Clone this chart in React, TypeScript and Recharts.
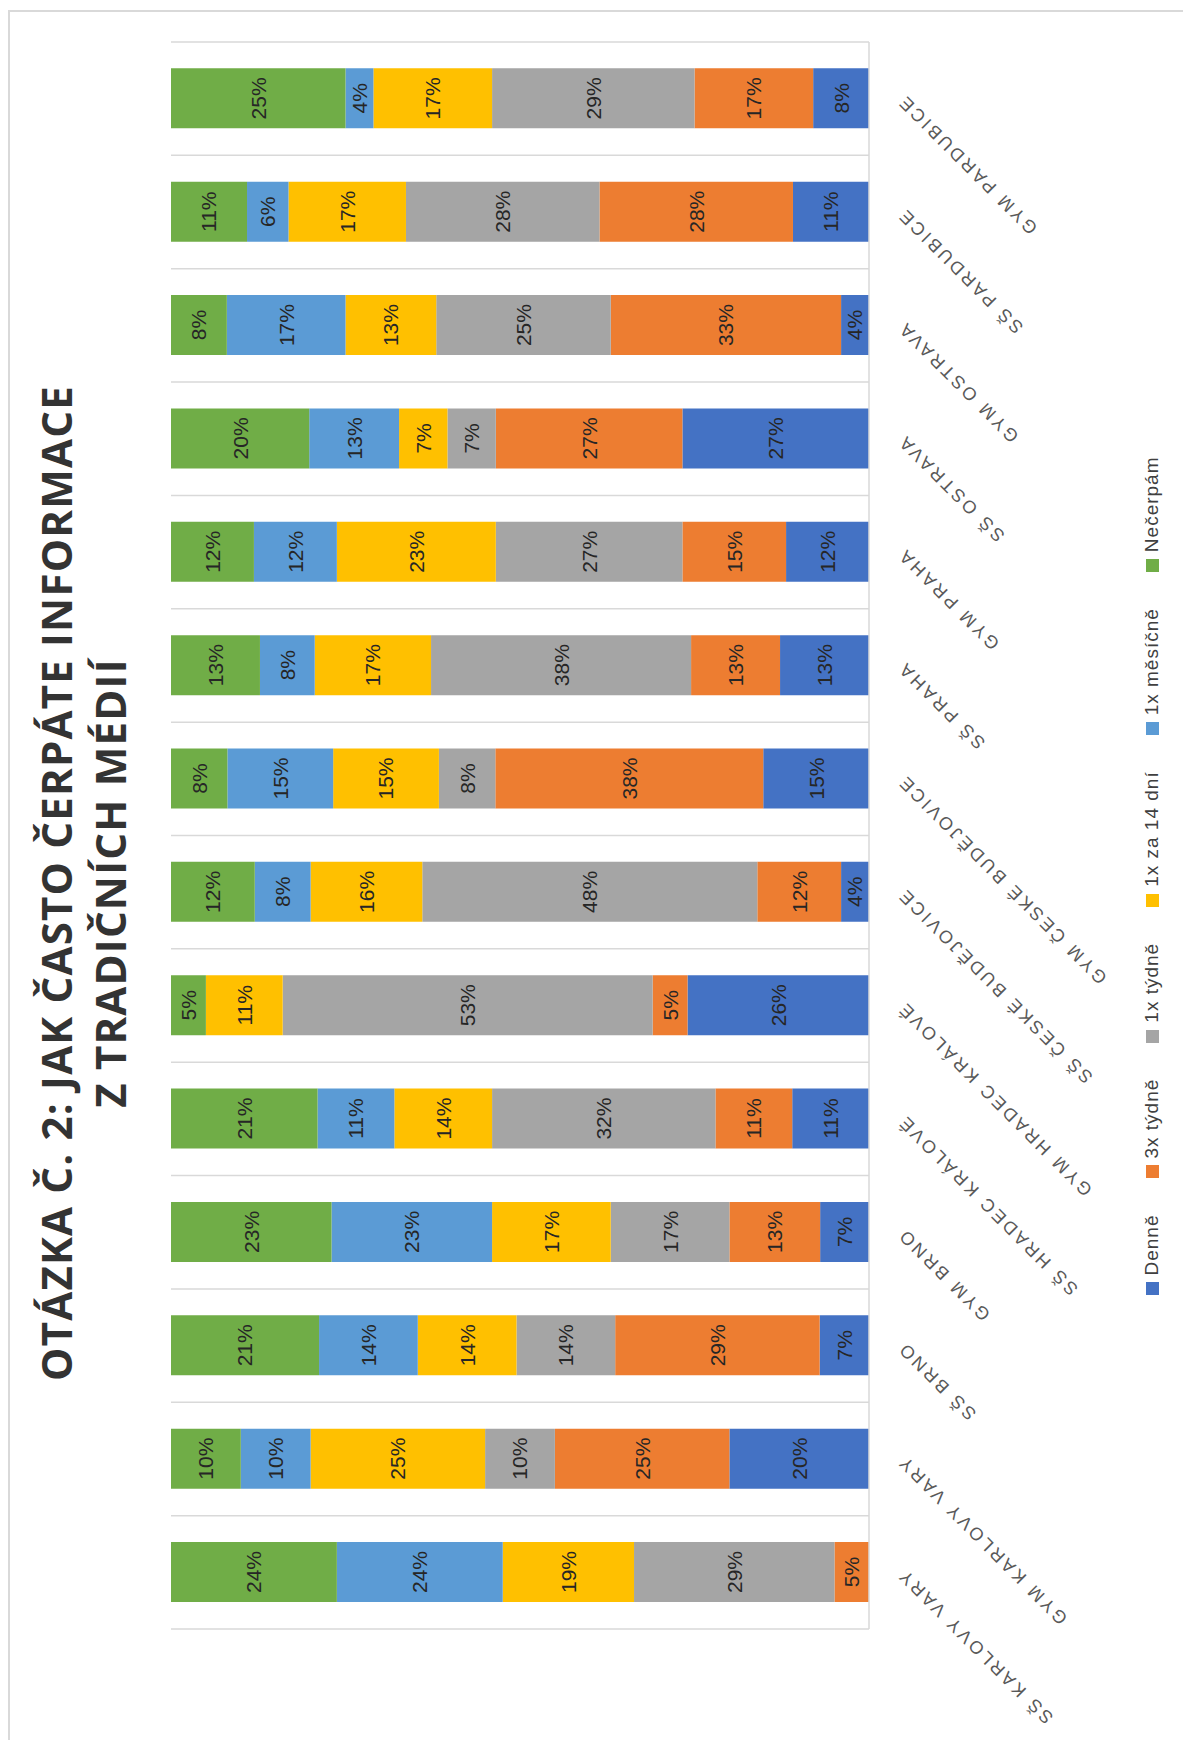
import React from "react";
import { BarChart, Bar, XAxis, YAxis, CartesianGrid, Legend, LabelList } from "recharts";

// categories left -> right in the unrotated chart
const categories = [
  "SŠ KARLOVY VARY",
  "GYM KARLOVY VARY",
  "SŠ BRNO",
  "GYM BRNO",
  "SŠ HRADEC KRÁLOVÉ",
  "GYM HRADEC KRÁLOVÉ",
  "SŠ ČESKÉ BUDĚJOVICE",
  "GYM ČESKÉ BUDĚJOVICE",
  "SŠ PRAHA",
  "GYM PRAHA",
  "SŠ OSTRAVA",
  "GYM OSTRAVA",
  "SŠ PARDUBICE",
  "GYM PARDUBICE",
];

// percentages per series (stack order bottom -> top)
const denne = [0, 20, 7, 7, 11, 26, 4, 15, 13, 12, 27, 4, 11, 8];
const tyd3 = [5, 25, 29, 13, 11, 5, 12, 38, 13, 15, 27, 33, 28, 17];
const tyd1 = [29, 10, 14, 17, 32, 53, 48, 8, 38, 27, 7, 25, 28, 29];
const den14 = [19, 25, 14, 17, 14, 11, 16, 15, 17, 23, 7, 13, 17, 17];
const mesicne = [24, 10, 14, 23, 11, 0, 8, 15, 8, 12, 13, 17, 6, 4];
const necerpam = [24, 10, 21, 23, 21, 5, 12, 8, 13, 12, 20, 8, 11, 25];

const seriesKeys = ["denne", "tyd3", "tyd1", "den14", "mesicne", "necerpam"];
const seriesNames = ["Denně", "3x týdně", "1x týdně", "1x za 14 dní", "1x měsíčně", "Nečerpám"];
const seriesColors = ["#4472C4", "#ED7D31", "#A5A5A5", "#FFC000", "#5B9BD5", "#70AD47"];
const seriesValues = [denne, tyd3, tyd1, den14, mesicne, necerpam];

const titleLines = ["OTÁZKA Č. 2: JAK ČASTO ČERPÁTE INFORMACE", "Z TRADIČNÍCH MÉDIÍ"];

const data = categories.map((name, i) => {
  const row: any = { name };
  seriesKeys.forEach((k, s) => {
    row[k] = seriesValues[s][i];
  });
  return row;
});

const W = 1740;
const H = 1183;
const FONT = "'Liberation Sans', Arial, sans-serif";

const CategoryTick = (props: any) => {
  const { x, y, payload } = props;
  const ax = x + 5;
  const ay = y + 36;
  return (
    <text
      x={ax}
      y={ay}
      textAnchor="end"
      transform={`rotate(-45 ${ax} ${ay})`}
      fill="#595959"
      fontSize={18}
      letterSpacing={3}
      fontFamily={FONT}
    >
      {payload.value}
    </text>
  );
};

const renderLegend = (props: any) => {
  // keep the series order (recharts sorts legend items by name otherwise)
  const items = [...(props.payload || [])].sort(
    (a: any, b: any) => seriesNames.indexOf(a.value) - seriesNames.indexOf(b.value)
  );
  return (
    <div style={{ display: "flex", justifyContent: "center", gap: 36, paddingRight: 12 }}>
      {items.map((p: any) => (
        <div key={p.value} style={{ display: "flex", alignItems: "center" }}>
          <span style={{ width: 13, height: 13, background: p.color, marginRight: 7, display: "inline-block" }} />
          <span style={{ fontFamily: FONT, fontSize: 19, letterSpacing: 1, color: "#404040", lineHeight: "24px" }}>
            {p.value}
          </span>
        </div>
      ))}
    </div>
  );
};

const pct = (v: any) => (v ? `${v}%` : "");

const App = () => {
  return (
    <div
      style={{
        position: "absolute",
        left: 0,
        top: 0,
        width: W,
        height: H,
        overflow: "hidden",
        background: "#ffffff",
        transformOrigin: "0 0",
        transform: `translateY(${W}px) rotate(-90deg)`,
      }}
    >
      <BarChart
        width={W}
        height={H}
        data={data}
        stackOffset="expand"
        margin={{ top: 171, right: 42, bottom: 284, left: 111 }}
      >
        <CartesianGrid
          horizontal={false}
          stroke="#d9d9d9"
          strokeWidth={1.5}
          verticalCoordinatesGenerator={({ offset }: any) =>
            categories
              .map((_, i) => offset.left + (i * offset.width) / categories.length)
              .concat(offset.left + offset.width)
          }
        />
        <XAxis
          dataKey="name"
          axisLine={{ stroke: "#d9d9d9", strokeWidth: 1.5 }}
          tickLine={false}
          tickSize={0}
          tickMargin={0}
          height={30}
          interval={0}
          tick={<CategoryTick />}
        />
        <YAxis hide domain={[0, 1]} />
        <Legend
          layout="horizontal"
          verticalAlign="middle"
          align="center"
          itemSorter={null as any}
          wrapperStyle={{ top: 1140, left: 0, width: W }}
          content={renderLegend}
        />
        {seriesKeys.map((k, s) => (
          <Bar
            key={k}
            dataKey={k}
            name={seriesNames[s]}
            stackId="a"
            fill={seriesColors[s]}
            barSize={60}
            isAnimationActive={false}
          >
            <LabelList
              dataKey={k}
              position="center"
              formatter={pct}
              fill="#262626"
              fontSize={21}
              fontFamily={FONT}
            />
          </Bar>
        ))}
      </BarChart>
      <div
        style={{
          position: "absolute",
          left: -10,
          top: 8,
          width: 1740,
          height: 1300,
          border: "2px solid #d9d9d9",
          boxSizing: "border-box",
          pointerEvents: "none",
        }}
      />
      <div
        style={{
          position: "absolute",
          left: 0,
          top: 29,
          width: 1714,
          textAlign: "center",
          fontFamily: "'Open Sans', sans-serif",
          fontWeight: 700,
          fontSize: 42,
          lineHeight: "54px",
          letterSpacing: 1.2,
          color: "#333333",
          pointerEvents: "none",
        }}
      >
        {titleLines.map((t) => (
          <div key={t}>{t}</div>
        ))}
      </div>
    </div>
  );
};

export default App;
